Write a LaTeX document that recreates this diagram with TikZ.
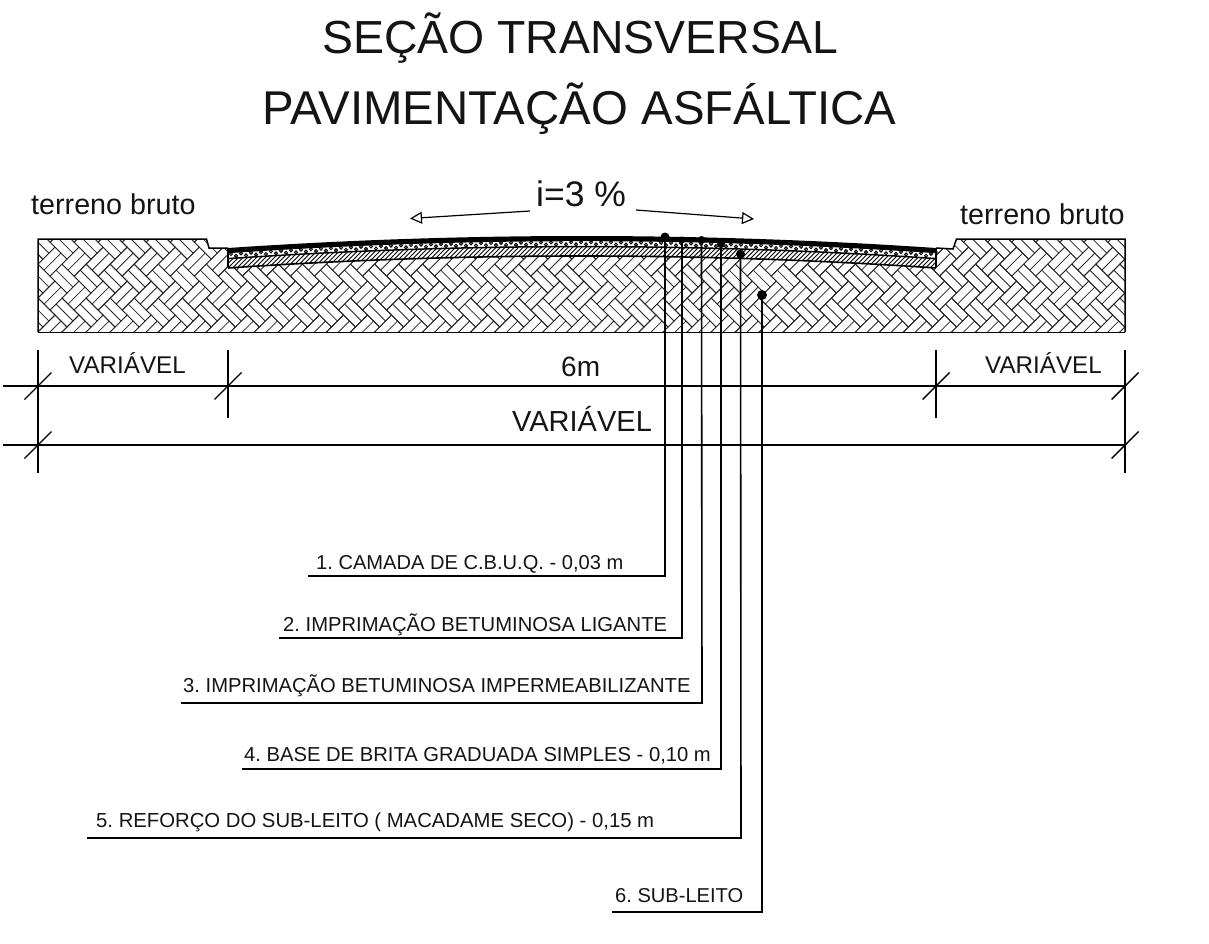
\documentclass[tikz,border=0pt]{standalone}
\usepackage{fontspec}
\setmainfont{Liberation Sans}
\usetikzlibrary{arrows.meta}
\frenchspacing
\newcommand{\fs}[1]{\fontsize{#1}{#1}\selectfont}
\tikzset{
  x=1pt,y=-1pt,
  txt/.style={inner sep=0pt,anchor=base west,text=black!92},
  leader/.style={line width=1.6pt,line join=miter},
  dimline/.style={line width=1.4pt},
  outline/.style={line width=1.5pt,line join=miter},
  brick/.style={line width=.8pt,black!85},
  blob/.style={circle,fill=black,inner sep=0pt,minimum size=#1},
  slope/.style={line width=1.2pt,-{Triangle[open,length=12pt,width=12pt,fill=white]}},
  declare function={yr(\x)=236+12*((\x-582)/354)^2;}
}
\begin{document}
\begin{tikzpicture}
\useasboundingbox (0,0) rectangle (1209,944);
\coordinate (g1) at (38,239);\coordinate (g2) at (206.5,239);\coordinate (g3) at (209,248);
\coordinate (g4) at (953,249);\coordinate (g5) at (956.5,239);\coordinate (g6) at (1125,239);
\coordinate (g7) at (1125,332);\coordinate (g8) at (38,332);
% double herringbone hatch
\begin{scope}
\clip (g1)--(g2)--(g3)--(g4)--(g5)--(g6)--(g7)--(g8)--cycle;
\def\L{24}\def\W{17}\def\H{8.5}
\foreach \i in {-3,...,50}{
 \foreach \j in {-4,...,5}{
  \pgfmathsetmacro{\px}{38+\i*1.41421*\W}
  \pgfmathsetmacro{\py}{332-\j*1.41421*\L}
  \begin{scope}[shift={(\px,\py)},rotate=-45]
  \draw[brick] (0,0)--(\L,0)--(\L,\W)--(0,\W)--cycle;
  \draw[brick] (0,\H)--(\L,\H);
  \draw[brick] (\L,0)--(\L+\W,0)--(\L+\W,\L)--(\L,\L)--cycle;
  \draw[brick] (\L+\H,0)--(\L+\H,\L);
  \end{scope}
 }
}
\end{scope}
\draw[outline] (g8)--(g1)--(g2)--(g3)--(228,248);
\draw[outline] (936,248)--(g4)--(g5)--(g6)--(g7);
\draw[line width=1pt] (g7)--(g8);
% road layers
\fill[white] plot[domain=228:936,samples=60] ({\x},{yr(\x)}) -- plot[domain=936:228,samples=60] ({\x},{yr(\x)+20}) -- cycle;
\begin{scope}
\clip plot[domain=228:936,samples=60] ({\x},{yr(\x)+11}) -- plot[domain=936:228,samples=60] ({\x},{yr(\x)+20}) -- cycle;
\foreach \k in {0,...,165}{\draw[line width=.9pt] ({210+\k*4.5},268)--++(30,-30);}
\end{scope}
\begin{scope}
\clip (228,230) rectangle (936,270);
\foreach \k in {0,...,140}{
 \pgfmathsetmacro{\xc}{231+\k*5}
 \pgfmathsetmacro{\yo}{mod(\k,2)*2.2}
 \draw[line width=1pt] ({\xc},{yr(\xc)+6.2+\yo}) circle (1.5pt);
}
\end{scope}
\fill plot[domain=228:936,samples=60] ({\x},{yr(\x)}) -- plot[domain=936:228,samples=60] ({\x},{yr(\x)+5.2}) -- cycle;
\draw[line width=1.5pt] plot[domain=228:936,samples=60] ({\x},{yr(\x)+10.6});
\draw[line width=1.8pt] (228,248)--(228,267);\draw[line width=1.8pt] (936,248)--(936,267);
\draw[line width=1.6pt] plot[domain=228:936,samples=60] ({\x},{yr(\x)+20});
% dimension
\coordinate (va) at (38,350);\coordinate (vab) at (38,473);
\coordinate (vb) at (228,350);\coordinate (vbb) at (228,418);
\coordinate (vc) at (936,350);\coordinate (vcb) at (936,418);
\coordinate (vd) at (1125,350);\coordinate (vdb) at (1125,473);
\coordinate (h1l) at (3,386);\coordinate (h1r) at (1125,386);
\coordinate (h2l) at (3,445);\coordinate (h2r) at (1125,445);
\foreach \a/\b in {va/vab,vb/vbb,vc/vcb,vd/vdb,h1l/h1r,h2l/h2r}{\draw[dimline] (\a)--(\b);}
\foreach \x/\y in {38/386,228/386,936/386,1125/386,38/445,1125/445}{\draw[dimline] (\x-13.5,\y+13.5)--(\x+13.5,\y-13.5);}
% texts
\node[txt] (t1) at (322,54) {\fs{46.4}SEÇÃO TRANSVERSAL};
\node[txt] (t2) at (262,124.5) {\fs{47.4}PAVIMENTAÇÃO ASFÁLTICA};
\node[txt] (tl) at (31,214) {\fs{28.7}terreno bruto};
\node[txt] (tr) at (960,224) {\fs{28.7}terreno bruto};
\node[txt] (ti) at (536,206) {\fs{35.5}i=3 \%};
\node[txt] (v1) at (69,373) {\fs{24.2}VARIÁVEL};
\node[txt] (v2) at (985,373) {\fs{24.2}VARIÁVEL};
\node[txt] (d6) at (561,376.5) {\fs{28}6m};
\node[txt] (v3) at (512,431.5) {\fs{29}VARIÁVEL};
\coordinate (a1s) at (530,211);\coordinate (a1e) at (410,218.5);
\coordinate (a2s) at (636,210);\coordinate (a2e) at (754,219);
\draw[slope] (a1s)--(a1e);
\draw[slope] (a2s)--(a2e);
% leaders
\node[blob=9pt] (p1) at (665,237) {};
\node[blob=7pt] (p2) at (682,240) {};
\node[blob=8pt] (p3) at (701.5,240) {};
\node[blob=8pt] (p4) at (721,244) {};
\node[blob=9pt] (p5) at (740.5,254) {};
\node[blob=10pt] (p6) at (762,295) {};
\coordinate (c1) at (665,576);\coordinate (e1) at (308,576);
\coordinate (c2) at (682,638);\coordinate (e2) at (279,638);
\coordinate (c3) at (702,703);\coordinate (e3) at (181,703);
\coordinate (c4) at (721,769);\coordinate (e4) at (242,769);
\coordinate (c5) at (741,838);\coordinate (e5) at (87,838);
\coordinate (c6) at (762,912);\coordinate (e6) at (612,912);
\foreach \n in {1,...,6}{\draw[leader] (p\n.center)--(c\n)--(e\n);}
\node[txt] (l1) at (316,569.5) {\fs{20.1}1. CAMADA DE C.B.U.Q. - 0,03 m};
\node[txt] (l2) at (283,631.5) {\fs{20.2}2. IMPRIMAÇÃO BETUMINOSA LIGANTE};
\node[txt] (l3) at (183,692.5) {\fs{20.2}3. IMPRIMAÇÃO BETUMINOSA IMPERMEABILIZANTE};
\node[txt] (l4) at (244,761.5) {\fs{20.2}4. BASE DE BRITA GRADUADA SIMPLES - 0,10 m};
\node[txt] (l5) at (96,827.5) {\fs{20.3}5. REFORÇO DO SUB-LEITO ( MACADAME SECO) - 0,15 m};
\node[txt] (l6) at (615,902.5) {\fs{20.1}6. SUB-LEITO};
\end{tikzpicture}
\end{document}
